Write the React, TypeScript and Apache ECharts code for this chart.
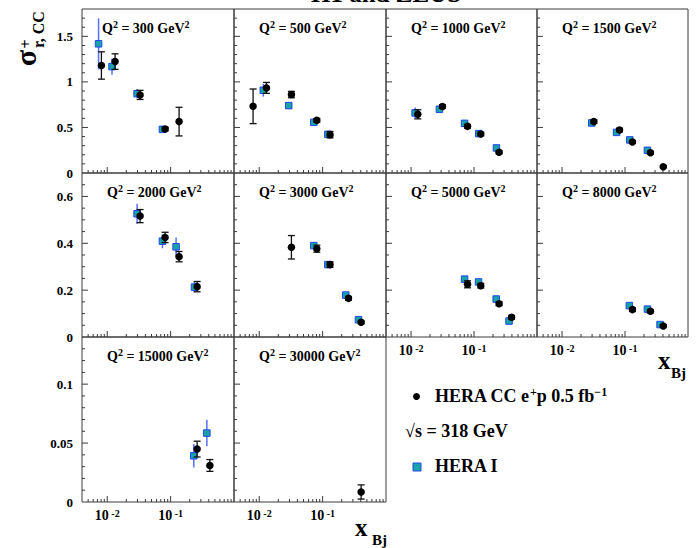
import React, { useEffect, useRef } from "react";
import * as echarts from "echarts";

const SERIF = "'Liberation Serif', 'Times New Roman', serif";

// Panels
const Q2 = [300, 500, 1000, 1500, 2000, 3000, 5000, 8000, 15000, 30000];
const PANEL_ROW = [0, 0, 0, 0, 1, 1, 1, 1, 2, 2];
const PANEL_COL = [0, 1, 2, 3, 0, 1, 2, 3, 0, 1];
const SHOW_X_LABELS = [false, false, false, false, false, false, true, true, true, true];
const Q2_LABEL_OFFSET = [20, 25, 25, 25, 25, 25, 25, 25, 25, 25];

// Axes
const X_MIN = 0.004;
const X_MAX = 1;
const ROW_YMAX = [1.8, 0.7, 0.14];
const ROW_YSTEP = [0.5, 0.2, 0.05];
const ROW_YMINOR = [0.1, 0.05, 0.01];
const X_MAJOR_TICKS = [0.01, 0.1];
const X_MINOR_TICKS = [
  0.005, 0.006, 0.007, 0.008, 0.009,
  0.02, 0.03, 0.04, 0.05, 0.06, 0.07, 0.08, 0.09,
  0.2, 0.3, 0.4, 0.5, 0.6, 0.7, 0.8, 0.9,
];

// HERA CC e+p 0.5 fb^-1 (black points)
const ccX = [
  [0.0081, 0.0133, 0.033, 0.082, 0.136],
  [0.008, 0.013, 0.0322, 0.081, 0.131],
  [0.0128, 0.0315, 0.0788, 0.128, 0.25],
  [0.032, 0.0818, 0.131, 0.253, 0.405],
  [0.033, 0.0818, 0.136, 0.262],
  [0.0322, 0.081, 0.131, 0.256, 0.405],
  [0.0788, 0.128, 0.25, 0.395],
  [0.131, 0.253, 0.405],
  [0.262, 0.416],
  [0.405],
];
const ccY = [
  [1.18, 1.223, 0.857, 0.483, 0.564],
  [0.732, 0.934, 0.861, 0.578, 0.421],
  [0.644, 0.729, 0.512, 0.428, 0.227],
  [0.564, 0.472, 0.341, 0.223, 0.069],
  [0.516, 0.425, 0.343, 0.215],
  [0.383, 0.377, 0.309, 0.165, 0.063],
  [0.225, 0.219, 0.142, 0.084],
  [0.117, 0.11, 0.047],
  [0.0449, 0.031],
  [0.0085],
];
const ccErr = [
  [0.15, 0.085, 0.05, 0.02, 0.157],
  [0.19, 0.06, 0.035, 0.02, 0.035],
  [0.05, 0.02, 0.02, 0.02, 0.015],
  [0.02, 0.02, 0.015, 0.015, 0.01],
  [0.028, 0.022, 0.022, 0.022],
  [0.05, 0.015, 0.012, 0.008, 0.006],
  [0.015, 0.01, 0.008, 0.008],
  [0.008, 0.007, 0.005],
  [0.0067, 0.005],
  [0.006],
];

// HERA I (blue squares)
const h1X = [
  [0.0073, 0.0119, 0.0296, 0.0743],
  [0.0116, 0.0292, 0.0726, 0.121],
  [0.0116, 0.0282, 0.0708, 0.119, 0.227],
  [0.0296, 0.0734, 0.119, 0.227],
  [0.0296, 0.0743, 0.122, 0.238],
  [0.0726, 0.121, 0.232, 0.368],
  [0.0708, 0.118, 0.225, 0.36],
  [0.117, 0.227, 0.36],
  [0.232, 0.373],
  [],
];
const h1Y = [
  [1.418, 1.168, 0.871, 0.479],
  [0.908, 0.74, 0.556, 0.424],
  [0.659, 0.699, 0.545, 0.432, 0.275],
  [0.549, 0.446, 0.363, 0.249],
  [0.526, 0.409, 0.385, 0.213],
  [0.39, 0.309, 0.179, 0.074],
  [0.247, 0.235, 0.162, 0.068],
  [0.134, 0.119, 0.053],
  [0.0392, 0.0585],
  [],
];
const h1Err = [
  [0.28, 0.09, 0.05, 0.03],
  [0.07, 0.04, 0.025, 0.025],
  [0.06, 0.02, 0.02, 0.02, 0.02],
  [0.02, 0.02, 0.02, 0.02],
  [0.043, 0.03, 0.04, 0.022],
  [0.015, 0.012, 0.01, 0.006],
  [0.012, 0.01, 0.008, 0.006],
  [0.008, 0.007, 0.005],
  [0.01, 0.0113],
  [],
];

// Layout (pixels)
const COL_LEFT = [82, 234, 386, 537];
const COL_RIGHT = [234, 386, 537, 688];
const ROW_TOP = [9, 173, 337];
const ROW_BOTTOM = [173, 337, 502];

const BLACK = "#000000";
const TEAL = "#19a3a8";
const BLUE_EDGE = "#2146f5";
const BLUE_ERR = "#5571f7";
const FRAME = "#3a3a3a";

function buildTicks(row: number) {
  const data: number[][] = [];
  X_MAJOR_TICKS.forEach((x) => data.push([x, 0, 0, 1]));
  X_MINOR_TICKS.forEach((x) => data.push([x, 0, 0, 0]));
  const max = ROW_YMAX[row];
  const step = ROW_YSTEP[row];
  const minor = ROW_YMINOR[row];
  for (let k = 1; k * minor < max - 1e-9; k++) {
    const v = Math.round(k * minor * 1e6) / 1e6;
    const r = v / step;
    const major = Math.abs(r - Math.round(r)) < 1e-6 ? 1 : 0;
    data.push([X_MIN, v, 1, major]);
  }
  return data;
}

function tickRender(params: any, api: any) {
  const p = api.coord([api.value(0), api.value(1)]);
  const major = api.value(3) === 1;
  const len = major ? 6 : 3;
  const kind = api.value(2);
  const shape =
    kind === 0
      ? { x1: p[0], y1: p[1], x2: p[0], y2: p[1] - len }
      : { x1: p[0], y1: p[1], x2: p[0] + len, y2: p[1] };
  return { type: "line", shape, style: { stroke: FRAME, lineWidth: 1 } };
}

function errRender(color: string, caps: boolean, width: number) {
  return (params: any, api: any) => {
    const x = api.value(0);
    const y = api.value(1);
    const e = api.value(2);
    const top = api.coord([x, y + e]);
    const bot = api.coord([x, y - e]);
    const children: any[] = [
      {
        type: "line",
        shape: { x1: top[0], y1: top[1], x2: bot[0], y2: bot[1] },
        style: { stroke: color, lineWidth: width },
      },
    ];
    if (caps) {
      children.push({
        type: "line",
        shape: { x1: top[0] - 3.5, y1: top[1], x2: top[0] + 3.5, y2: top[1] },
        style: { stroke: color, lineWidth: width },
      });
      children.push({
        type: "line",
        shape: { x1: bot[0] - 3.5, y1: bot[1], x2: bot[0] + 3.5, y2: bot[1] },
        style: { stroke: color, lineWidth: width },
      });
    }
    return { type: "group", children };
  };
}

const supRich = (base: number, sup: number, raise: number, key: string) => ({
  a: { fontFamily: SERIF, fontWeight: "bold", fontSize: base, [key]: BLACK },
  s: {
    fontFamily: SERIF,
    fontWeight: "bold",
    fontSize: sup,
    [key]: BLACK,
    verticalAlign: "top",
    padding: [0, 0, raise, 0],
  },
});

function buildOption() {
  const grid: any[] = [];
  const xAxis: any[] = [];
  const yAxis: any[] = [];
  const series: any[] = [];
  const graphic: any[] = [];

  Q2.forEach((q, i) => {
    const r = PANEL_ROW[i];
    const c = PANEL_COL[i];
    grid.push({
      left: COL_LEFT[c],
      top: ROW_TOP[r],
      width: COL_RIGHT[c] - COL_LEFT[c],
      height: ROW_BOTTOM[r] - ROW_TOP[r],
      show: true,
      borderColor: FRAME,
      borderWidth: 1,
      backgroundColor: "transparent",
      containLabel: false,
      outerBoundsMode: "none",
    });
    xAxis.push({
      type: "log",
      logBase: 10,
      gridIndex: i,
      min: X_MIN,
      max: X_MAX,
      axisLine: { show: false },
      axisTick: { show: false },
      splitLine: { show: false },
      axisLabel: {
        show: SHOW_X_LABELS[i],
        margin: 6,
        formatter: (v: number) => {
          const e = Math.log10(v);
          const rr = Math.round(e);
          if (Math.abs(e - rr) < 1e-6 && (rr === -2 || rr === -1)) {
            return "{a|10}{s| " + rr + "}";
          }
          return "";
        },
        rich: supRich(14, 10, 5, "color"),
      },
    });
    yAxis.push({
      type: "value",
      gridIndex: i,
      min: 0,
      max: ROW_YMAX[r],
      interval: ROW_YSTEP[r],
      axisLine: { show: false },
      axisTick: { show: false },
      splitLine: { show: false },
      axisLabel: {
        show: c === 0,
        showMaxLabel: false,
        margin: 9,
        fontFamily: SERIF,
        fontWeight: "bold",
        fontSize: 13,
        color: BLACK,
      },
    });

    series.push({
      type: "custom",
      xAxisIndex: i,
      yAxisIndex: i,
      data: buildTicks(r),
      renderItem: tickRender,
      silent: true,
      clip: false,
      z: 5,
    });
    series.push({
      type: "custom",
      name: "HERA I",
      xAxisIndex: i,
      yAxisIndex: i,
      data: h1X[i].map((x, j) => [x, h1Y[i][j], h1Err[i][j]]),
      renderItem: errRender(BLUE_ERR, false, 1.5),
      silent: true,
      z: 6,
    });
    series.push({
      type: "scatter",
      name: "HERA I",
      xAxisIndex: i,
      yAxisIndex: i,
      data: h1X[i].map((x, j) => [x, h1Y[i][j]]),
      symbol: "rect",
      symbolSize: 6.5,
      itemStyle: { color: TEAL, borderColor: BLUE_EDGE, borderWidth: 1, opacity: 1 },
      silent: true,
      z: 7,
    });
    series.push({
      type: "custom",
      name: "HERA CC",
      xAxisIndex: i,
      yAxisIndex: i,
      data: ccX[i].map((x, j) => [x, ccY[i][j], ccErr[i][j]]),
      renderItem: errRender("#111111", true, 1.3),
      silent: true,
      z: 8,
    });
    series.push({
      type: "scatter",
      name: "HERA CC",
      xAxisIndex: i,
      yAxisIndex: i,
      data: ccX[i].map((x, j) => [x, ccY[i][j]]),
      symbol: "circle",
      symbolSize: 7.5,
      itemStyle: { color: BLACK, opacity: 1 },
      silent: true,
      z: 9,
    });

    graphic.push({
      type: "text",
      x: COL_LEFT[c] + Q2_LABEL_OFFSET[i],
      y: ROW_TOP[r] + 19,
      z: 20,
      style: {
        text: "{a|Q}{s|2}{a| = " + q + " GeV}{s|2}",
        align: "left",
        verticalAlign: "middle",
        rich: supRich(14, 10, 7, "fill"),
      },
    });
  });

  const txt = (x: number, y: number, text: string, size: number, extra: any = {}) => ({
    type: "text",
    x,
    y,
    z: 20,
    ...extra,
    style: {
      text,
      fontFamily: SERIF,
      fontWeight: "bold",
      fontSize: size,
      fill: BLACK,
      align: "left",
      verticalAlign: "middle",
      ...(extra.style || {}),
    },
  });

  // Title (mostly above the top edge, as in the reference)
  graphic.push(txt(386, -7, "H1 and ZEUS", 25, { style: { align: "center" } }));

  // Y axis title: sigma^+_{r, CC}
  graphic.push(
    txt(25, 58, "σ", 30, { rotation: Math.PI / 2, style: { align: "center" } })
  );
  graphic.push(
    txt(25, 44, "+", 16, { rotation: Math.PI / 2, style: { align: "center" } })
  );
  graphic.push(txt(38.5, 48, "r, CC", 16, { rotation: Math.PI / 2 }));

  // x_Bj labels
  graphic.push(txt(658, 360, "x", 25));
  graphic.push(txt(671, 373, "Bj", 15));
  graphic.push(txt(355, 527, "x", 25));
  graphic.push(txt(372, 540, "Bj", 15));

  // Legend
  graphic.push({
    type: "circle",
    z: 20,
    shape: { cx: 416.5, cy: 396.5, r: 3.5 },
    style: { fill: BLACK },
  });
  graphic.push({
    type: "text",
    x: 435,
    y: 396,
    z: 20,
    style: {
      text: "{a|HERA CC e}{s|+}{a|p 0.5 fb}{s|−1}",
      align: "left",
      verticalAlign: "middle",
      rich: supRich(18, 12, 8, "fill"),
    },
  });
  graphic.push(txt(405, 431, "√s = 318 GeV", 18));
  graphic.push({
    type: "rect",
    z: 20,
    shape: { x: 413, y: 463, width: 8, height: 8 },
    style: { fill: TEAL, stroke: BLUE_EDGE, lineWidth: 1 },
  });
  graphic.push(txt(435, 466, "HERA I", 18));

  return {
    animation: false,
    backgroundColor: "#ffffff",
    grid,
    xAxis,
    yAxis,
    series,
    graphic,
  };
}

export default function App() {
  const ref = useRef<HTMLDivElement | null>(null);
  useEffect(() => {
    if (!ref.current) return;
    const chart = echarts.init(ref.current, undefined, { renderer: "svg" });
    chart.setOption(buildOption() as any);
    return () => {
      chart.dispose();
    };
  }, []);
  return (
    <div
      ref={ref}
      style={{ position: "fixed", left: 0, top: 0, width: 699, height: 548, background: "#fff" }}
    />
  );
}
